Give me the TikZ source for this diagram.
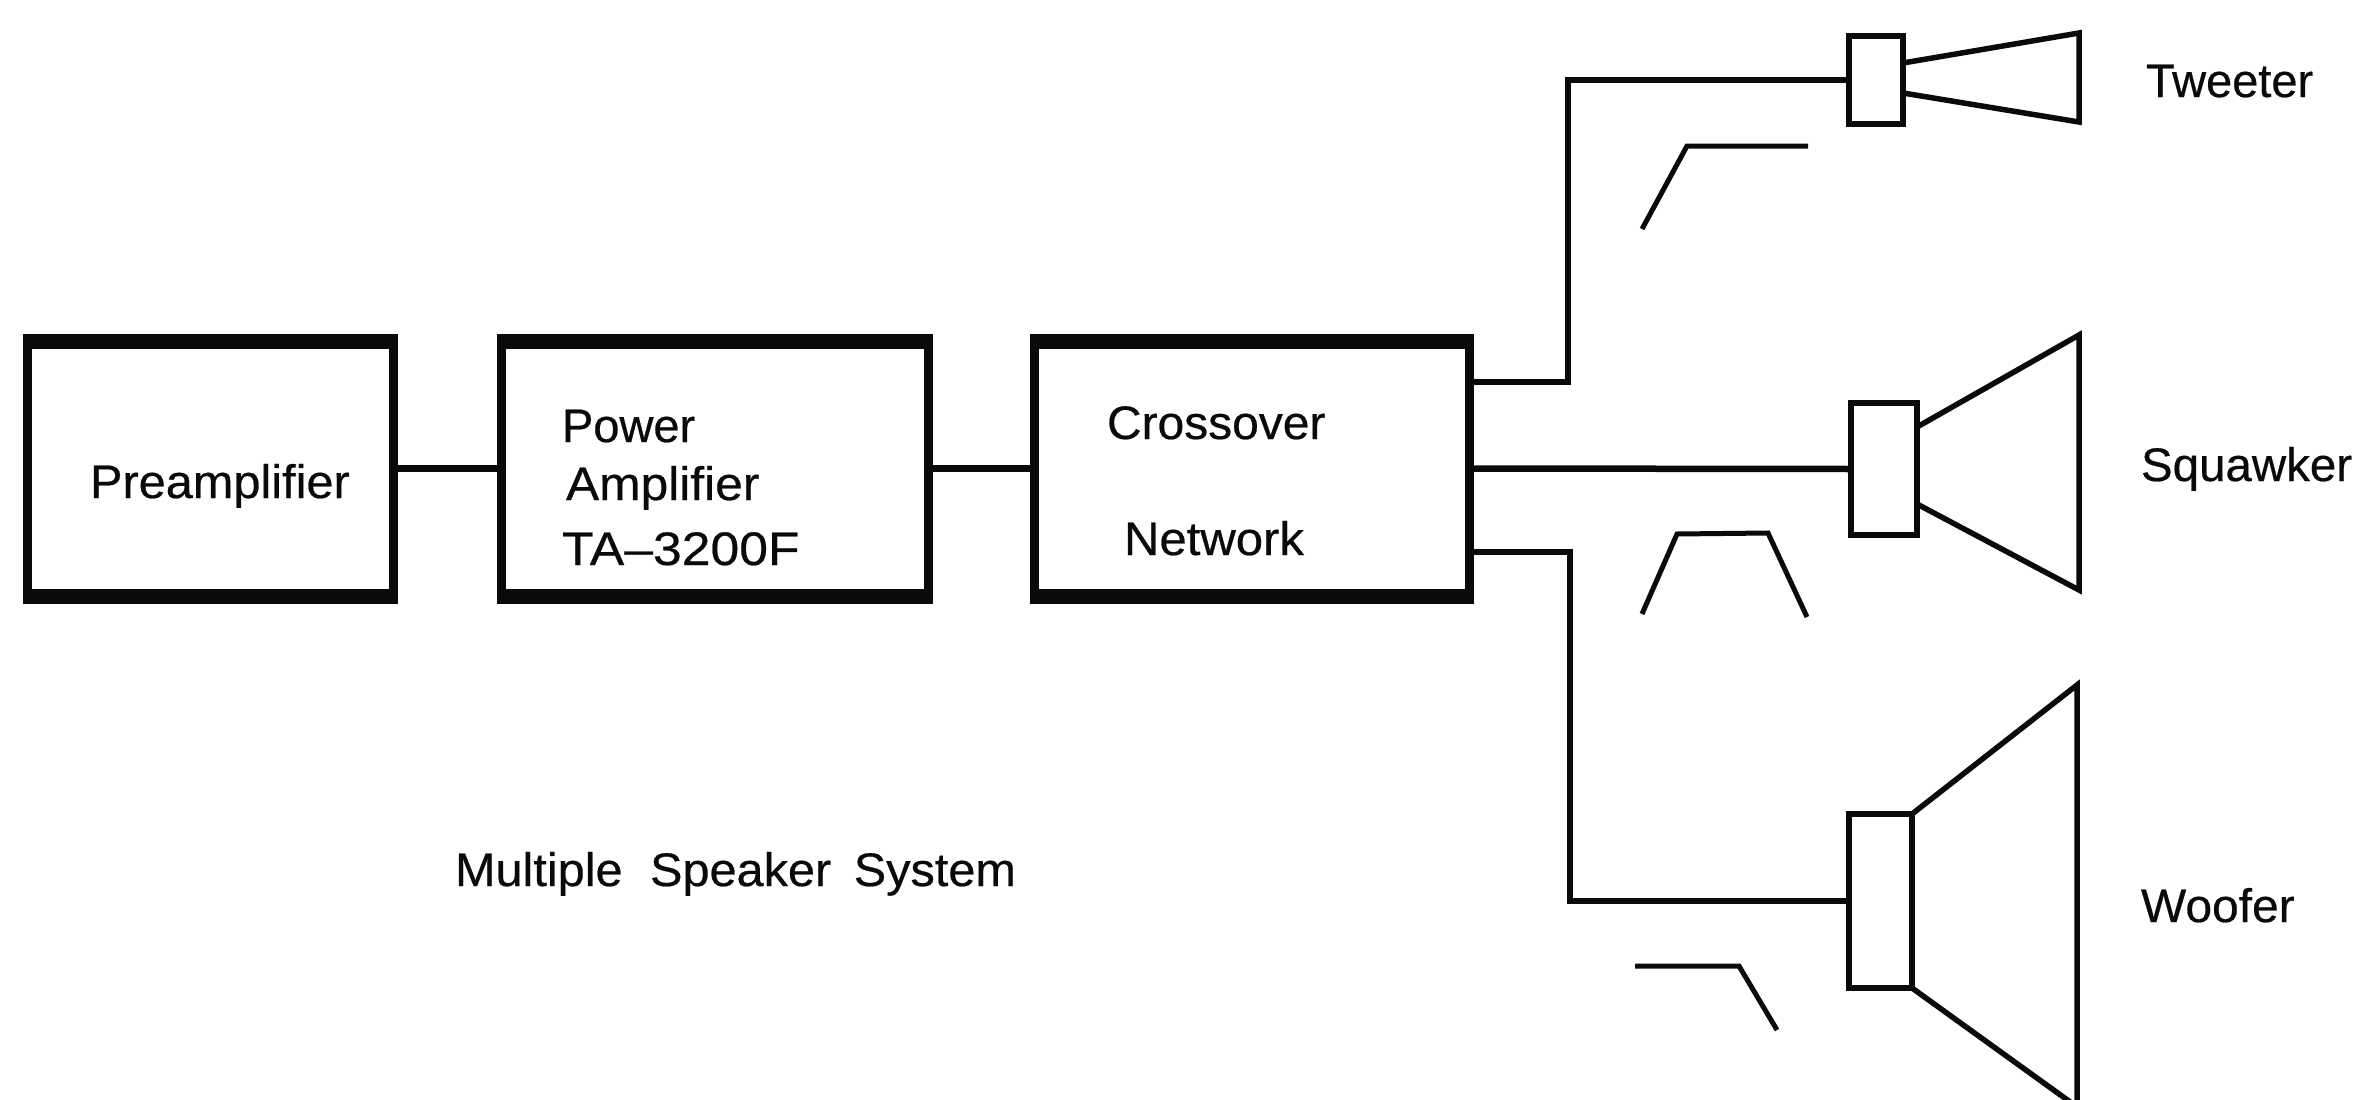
\documentclass[tikz,border=0pt]{standalone}
\usepackage{fontspec}
\setmainfont[FakeBold=0.5]{Liberation Sans}
\newcommand{\stretchby}[1]{\addfontfeature{FakeStretch=#1}}
\tikzset{
  ampbox/.style={draw=ink, line width=9pt, outer sep=0pt, inner sep=0pt, rectangle},
  driver/.style={draw=ink, line width=6pt, outer sep=0pt, inner sep=0pt, rectangle, fill=white},
  barline/.style={draw=ink, line width=15pt, line cap=butt},
  wire/.style={draw=ink, line width=6.5pt, line join=miter},
  horn/.style={draw=ink, line width=5.5pt, line join=miter},
  curve/.style={draw=ink, line width=5pt, line join=miter},
  lbl/.style={anchor=base west, inner sep=0pt, outer sep=0pt, text=ink, font=\fontsize{47}{47}\selectfont}
}
\definecolor{ink}{gray}{0.04}
\begin{document}
\begin{tikzpicture}[x=1pt,y=-1pt]
\useasboundingbox (0,0) rectangle (2356,1100);
% amplifier chain boxes
\node[ampbox, minimum width=366pt, minimum height=255pt] (pre) at (210,468.5) {};
\node[ampbox, minimum width=427pt, minimum height=255pt] (pow) at (714.5,468.5) {};
\node[ampbox, minimum width=435pt, minimum height=255pt] (xo) at (1251.5,468.5) {};
\foreach \b in {pre,pow,xo}{
  \draw[barline] ([xshift=-4.5pt]\b.north west) -- ([xshift=4.5pt]\b.north east);
  \draw[barline] ([xshift=-4.5pt]\b.south west) -- ([xshift=4.5pt]\b.south east);
}
% drivers
\node[driver, minimum width=54pt, minimum height=88pt] (tw) at (1876,80) {};
\node[driver, minimum width=66pt, minimum height=132pt] (sq) at (1884,469) {};
\node[driver, minimum width=63pt, minimum height=174pt] (wf) at (1880.5,901) {};
% connectors
\draw[wire] (pre) -- (pow);
\draw[wire] (pow) -- (xo);
\coordinate (xoT) at (1469,382);
\coordinate (xoW) at (1469,552);
\coordinate (kneeT) at (1568,382);
\coordinate (kneeW) at (1570,552);
\draw[wire] (xoT) -- (kneeT) |- (tw.west);
\draw[wire] (xo.east) -- (sq.west);
\draw[wire] (xoW) -- (kneeW) |- (wf.west);
% horns
\coordinate (twA) at (1903,63); \coordinate (twB) at (2079,33);
\coordinate (twC) at (2079,122); \coordinate (twD) at (1903,93);
\draw[horn] (twA) -- (twB) -- (twC) -- (twD);
\coordinate (sqA) at (1917,427); \coordinate (sqB) at (2079,335);
\coordinate (sqC) at (2079,590); \coordinate (sqD) at (1917,504);
\draw[horn] (sqA) -- (sqB) -- (sqC) -- (sqD);
\coordinate (wfA) at (1912,814); \coordinate (wfB) at (2077,685);
\coordinate (wfC) at (2077,1104); \coordinate (wfD) at (1912,988);
\coordinate (wfE) at (2073,1104);
\draw[horn] (wfA) -- (wfB) -- (wfC);
\draw[horn] (wfD) -- (wfE);
% response curves
\coordinate (c1) at (1642,229); \coordinate (c2) at (1687,146); \coordinate (c3) at (1808,146);
\draw[curve] (c1) -- (c2) -- (c3);
\coordinate (c4) at (1642,614); \coordinate (c5) at (1677,534); \coordinate (c6) at (1768,533); \coordinate (c7) at (1807,617);
\draw[curve] (c4) -- (c5) -- (c6) -- (c7);
\coordinate (c8) at (1635,966); \coordinate (c9) at (1739,966); \coordinate (c10) at (1777,1030);
\draw[curve] (c8) -- (c9) -- (c10);
% labels
\node[lbl] (tPre) at (90,498) {\stretchby{1.036}Preamplifier};
\node[lbl] (tPow) at (562,442) {Power};
\node[lbl] (tAmp) at (566,500) {\stretchby{1.058}Amplifier};
\node[lbl] (tTA) at (562,565) {\stretchby{1.1}TA–3200F};
\node[lbl] (tCro) at (1107,439) {\stretchby{1.02}Crossover};
\node[lbl] (tNet) at (1124,555) {\stretchby{1.044}Network};
\node[lbl] (tTw) at (2146,97) {Tweeter};
\node[lbl] (tSq) at (2141,481) {\stretchby{1.01}Squawker};
\node[lbl] (tWf) at (2141,922) {\stretchby{1.02}Woofer};
\node[lbl] (tSys) at (455,886) {\stretchby{1.035}Multiple\hspace{14pt} Speaker\hspace{9pt} System};
\end{tikzpicture}
\end{document}
